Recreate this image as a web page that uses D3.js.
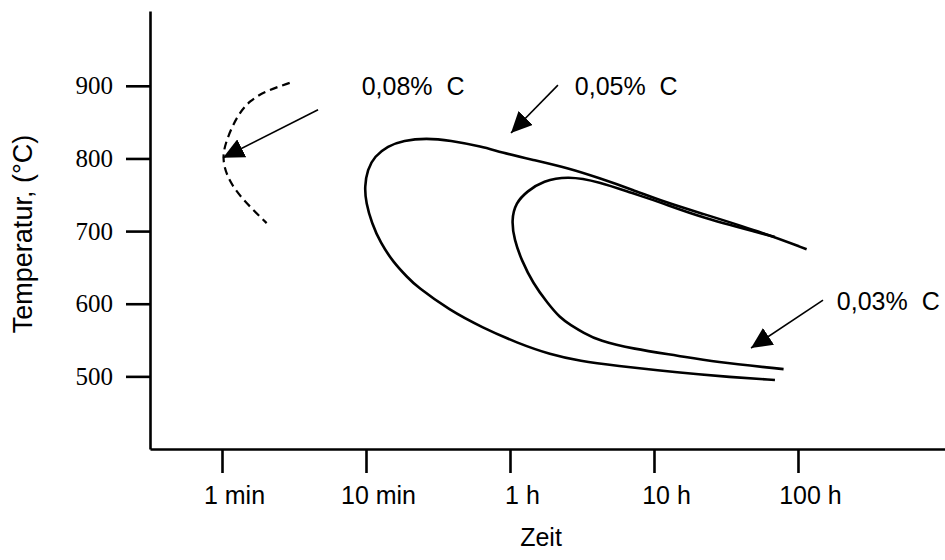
<!DOCTYPE html>
<html>
<head>
<meta charset="utf-8">
<script src="https://cdn.jsdelivr.net/npm/d3@7"></script>
<style>
  body { margin: 0; background: #fff; }
  svg { display: block; }
</style>
</head>
<body>
<div id="chart"></div>
<script>
// time axis is one step per decade: 0 = 1 min ... 4 = 100 h
const timeTicks = [0, 1, 2, 3, 4];
const timeLabels = ["1 min", "10 min", "1 h", "10 h", "100 h"];
const tempTicks = [500, 600, 700, 800, 900];

// curves, [time position, temperature in °C]
const curve008 = [
    [0.47, 904], [0.47, 904], [0.32, 894], [0.19, 880], [0.10, 857], [0.03, 825],
    [0.00, 801], [0.035, 774], [0.125, 747], [0.31, 711], [0.31, 711]
];
const curve005 = [
    [4.06, 675], [4.06, 675], [3.74, 699], [3.32, 725], [3.09, 739], [2.85, 757],
    [2.62, 773], [2.40, 787], [2.16, 798], [1.93, 809], [1.81, 816],
    [1.58, 825], [1.42, 828], [1.26, 825], [1.15, 817], [1.06, 803],
    [1.01, 785], [0.99, 761], [1.00, 739], [1.04, 711], [1.10, 684],
    [1.19, 657], [1.29, 636], [1.35, 624], [1.58, 591], [1.81, 567],
    [2.05, 546], [2.28, 530], [2.49, 521], [2.72, 515], [3.18, 505],
    [3.53, 499], [3.84, 495], [3.84, 495]
];
const curve003 = [
    [3.84, 692], [3.84, 692], [3.32, 719], [3.04, 740], [2.85, 752], [2.62, 768],
    [2.40, 776], [2.23, 769], [2.12, 755], [2.04, 739], [2.01, 715],
    [2.03, 688], [2.08, 660], [2.16, 628], [2.26, 601], [2.35, 580],
    [2.42, 571], [2.51, 560], [2.62, 549], [2.85, 538], [3.18, 528],
    [3.41, 520], [3.90, 510], [3.90, 510]
];

// annotations
const labels = ["0,08% C", "0,05% C", "0,03% C"];
const labelAt = [[0.97, 887], [2.45, 887], [4.27, 591]];
const arrowFrom = [[0.667, 867], [2.333, 901], [4.174, 605]];
const arrowTo = [[0.007, 801], [2.007, 835], [3.674, 539]];

const width = 945, height = 560;

const svg = d3.select('#chart').append('svg')
    .attr('width', width)
    .attr('height', height);

let x = d3.scaleLinear().domain([-0.5, 5.021]).range([150, 945]);
let y = d3.scaleLinear().domain([400, 1003]).range([449, 11]);

const sans = '"Liberation Sans", Arial, Helvetica, sans-serif';
const serif = '"Liberation Serif", "Times New Roman", serif';

// arrow head
svg.append('defs').append('marker')
    .attr('id', 'head')
    .attr('viewBox', '0 -10 21 20')
    .attr('markerWidth', 21)
    .attr('markerHeight', 20)
    .attr('markerUnits', 'userSpaceOnUse')
    .attr('refX', 21)
    .attr('refY', 0)
    .attr('orient', 'auto')
    .append('path')
    .attr('d', 'M0,-10L21,0L0,10Z')
    .attr('fill', '#000');

// axes
let yAxis = svg.append('g')
    .attr('transform', 'translate(150,0)')
    .call(d3.axisLeft(y).tickValues(tempTicks).tickSize(24).tickPadding(13).tickSizeOuter(0));

yAxis.selectAll('text')
    .attr('font-family', serif)
    .attr('font-size', 25)
    .attr('fill', '#000');

let xAxis = svg.append('g')
    .attr('transform', 'translate(0,449)')
    .call(d3.axisBottom(x).tickValues(timeTicks)
        .tickFormat((d, i) => timeLabels[i])
        .tickSize(24).tickPadding(13).tickSizeOuter(0));

xAxis.selectAll('text')
    .attr('font-family', sans)
    .attr('font-size', 25)
    .attr('dx', 12)
    .attr('fill', '#000');

svg.selectAll('.domain, .tick line')
    .attr('stroke', '#000')
    .attr('stroke-width', 2.6);

// axis titles
svg.append('text')
    .attr('x', 541)
    .attr('y', 546)
    .attr('text-anchor', 'middle')
    .attr('font-family', sans)
    .attr('font-size', 25)
    .text('Zeit');

svg.append('text')
    .attr('transform', 'translate(32,234) rotate(-90)')
    .attr('text-anchor', 'middle')
    .attr('font-family', sans)
    .attr('font-size', 27)
    .text('Temperatur, (°C)');

// curves
let line = d3.line()
    .x(d => x(d[0]))
    .y(d => y(d[1]))
    .curve(d3.curveBasis);

svg.append('path')
    .datum(curve008)
    .attr('d', line)
    .attr('fill', 'none')
    .attr('stroke', '#000')
    .attr('stroke-width', 2.2)
    .attr('stroke-dasharray', '8,5');

[curve005, curve003].forEach(c => {
    svg.append('path')
        .datum(c)
        .attr('d', line)
        .attr('fill', 'none')
        .attr('stroke', '#000')
        .attr('stroke-width', 2.6);
});

// labels and arrows
labels.forEach((t, i) => {
    svg.append('line')
        .attr('x1', x(arrowFrom[i][0]))
        .attr('y1', y(arrowFrom[i][1]))
        .attr('x2', x(arrowTo[i][0]))
        .attr('y2', y(arrowTo[i][1]))
        .attr('stroke', '#000')
        .attr('stroke-width', 1.6)
        .attr('marker-end', 'url(#head)');

    svg.append('text')
        .attr('x', x(labelAt[i][0]))
        .attr('y', y(labelAt[i][1]))
        .attr('font-family', sans)
        .attr('font-size', 25)
        .attr('word-spacing', 7)
        .text(t);
});
</script>
</body>
</html>
